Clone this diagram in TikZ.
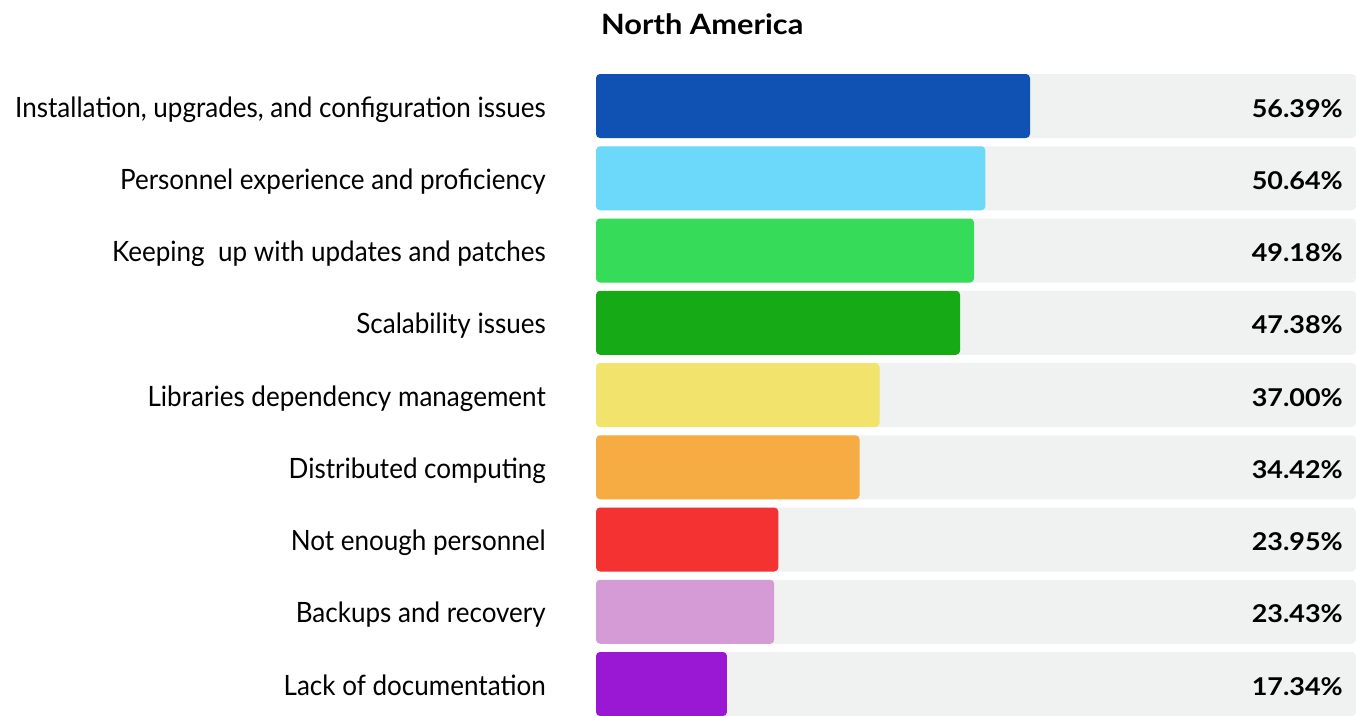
\documentclass[tikz,border=0pt]{standalone}
\usepackage{fontspec}
\setmainfont{Lato}
\newfontfamily\rowfont[FakeStretch=0.93]{Lato}
\newfontfamily\boldwide[FakeStretch=1.1]{Lato Bold}
\definecolor{barbg}{HTML}{F0F1F1}
\definecolor{cInstall}{HTML}{1051B4}
\definecolor{cPersonnel}{HTML}{6DD9FA}
\definecolor{cUpdates}{HTML}{37DB5A}
\definecolor{cScale}{HTML}{15AA16}
\definecolor{cLibs}{HTML}{F2E36C}
\definecolor{cDistrib}{HTML}{F6AC42}
\definecolor{cNotEnough}{HTML}{F43232}
\definecolor{cBackups}{HTML}{D49BD6}
\definecolor{cDocs}{HTML}{9A17D4}
\tikzset{
  bgbar/.style={fill=barbg,rounded corners=4pt},
  valbar/.style={rounded corners=4pt},
  rowlabel/.style={anchor=base east,inner sep=0pt,font=\rowfont\fontsize{28}{30}\selectfont},
  pctlabel/.style={anchor=base east,inner sep=0pt,font=\boldwide\fontsize{24.5}{27}\selectfont},
  titlelabel/.style={anchor=base west,inner sep=0pt,font=\boldwide\fontsize{28}{30}\selectfont}
}
\begin{document}
\begin{tikzpicture}[x=1pt,y=-1pt]
        \useasboundingbox (0,0) rectangle (1356,715);
        % draw the title
        \node[titlelabel] (title) at (601,34) {North America};
        % draw the rows
        \foreach \lab/\val/\col [count=\i from 0] in {
            {Installation, upgrades, and configuration issues}/56.39/cInstall,
            {Personnel experience and proficiency}/50.64/cPersonnel,
            {Keeping\ \ up with updates and patches}/49.18/cUpdates,
            {Scalability issues}/47.38/cScale,
            {Libraries dependency management}/37.00/cLibs,
            {Distributed computing}/34.42/cDistrib,
            {Not enough personnel}/23.95/cNotEnough,
            {Backups and recovery}/23.43/cBackups,
            {Lack of documentation}/17.34/cDocs}{
            \pgfmathsetmacro{\rowtop}{74+72.25*\i}
            \pgfmathsetmacro{\rowbot}{\rowtop+64}
            \pgfmathsetmacro{\rowmid}{\rowtop+32}
            \pgfmathsetmacro{\barend}{592.4+7.76*\val}
            \fill[bgbar] (596,\rowtop) rectangle (1356,\rowbot);
            \fill[valbar,\col] (596,\rowtop) rectangle (\barend,\rowbot);
            \node[rowlabel] (lab\i) at (546,\rowmid+11) {\lab};
            \node[pctlabel] (pct\i) at (1343,\rowmid+11) {\val\%};
        }
\end{tikzpicture}
\end{document}
